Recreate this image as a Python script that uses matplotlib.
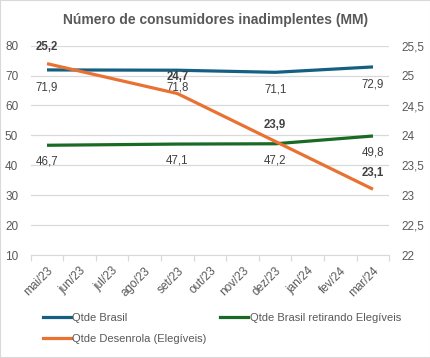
import matplotlib.pyplot as plt
from matplotlib.lines import Line2D
from matplotlib.patches import Rectangle

# categorias (meses) e séries
meses = ['mai/23', 'jun/23', 'jul/23', 'ago/23', 'set/23', 'out/23',
         'nov/23', 'dez/23', 'jan/24', 'fev/24', 'mar/24']
meses_pontos = ['mai/23', 'set/23', 'dez/23', 'mar/24']
qtde_brasil = [71.9, 71.8, 71.1, 72.9]
qtde_sem_elegiveis = [46.7, 47.1, 47.2, 49.8]
qtde_desenrola = [25.2, 24.7, 23.9, 23.1]

cor_azul, cor_verde, cor_laranja = '#156082', '#196B24', '#E97132'
cinza_txt, cinza_grid = '#595959', '#D9D9D9'

plt.rcParams['font.family'] = ['Liberation Sans', 'DejaVu Sans']

fig = plt.figure(figsize=(4.31, 3.58), dpi=100)
ax = fig.add_axes([30.7 / 431, 1 - 255 / 358, (389.3 - 30.7) / 431, (255 - 45.7) / 358])
ax2 = ax.twinx()

xp = [meses.index(m) for m in meses_pontos]

ax.plot(xp, qtde_brasil, color=cor_azul, lw=2.3, solid_capstyle='butt')
ax.plot(xp, qtde_sem_elegiveis, color=cor_verde, lw=2.3, solid_capstyle='butt')
ax2.plot(xp, qtde_desenrola, color=cor_laranja, lw=2.3, solid_capstyle='butt')

def fmt(v):
    return f'{v:.1f}'.replace('.', ',')

for x, v in zip(xp, qtde_brasil):
    ax.annotate(fmt(v), (x, v), xytext=(0, -12.5), textcoords='offset points',
                ha='center', va='center', fontsize=8.3, color='#404040')
for x, v in zip(xp, qtde_sem_elegiveis):
    ax.annotate(fmt(v), (x, v), xytext=(0, -12), textcoords='offset points',
                ha='center', va='center', fontsize=8.3, color='#404040')
for x, v in zip(xp, qtde_desenrola):
    ax2.annotate(fmt(v), (x, v), xytext=(0, 12), textcoords='offset points',
                 ha='center', va='center', fontsize=8.3, color='#404040',
                 fontweight='bold')

ax.set_xlim(-0.5, len(meses) - 0.5)
ax.set_ylim(10, 80)
ax2.set_ylim(22, 25.5)
ax.set_yticks(range(10, 81, 10))
ax2.set_yticks([22 + 0.5 * i for i in range(8)])
ax2.set_yticklabels([f'{22 + 0.5 * i:g}'.replace('.', ',') for i in range(8)])

ax.grid(axis='y', color=cinza_grid, lw=0.9)
ax.set_axisbelow(True)
for a in (ax, ax2):
    for s in a.spines.values():
        s.set_visible(False)
ax.spines['bottom'].set_visible(True)
ax.spines['bottom'].set_color(cinza_grid)

ax.tick_params(axis='y', length=0, labelsize=8.5, labelcolor=cinza_txt, pad=9)
ax2.tick_params(axis='y', length=0, labelsize=8.5, labelcolor=cinza_txt, pad=9)

# marcas entre categorias, rótulos no centro
ax.set_xticks([i - 0.5 for i in range(len(meses) + 1)], minor=True)
ax.set_xticks(range(len(meses)))
ax.set_xticklabels(meses, rotation=45, ha='right', rotation_mode='anchor')
ax.tick_params(axis='x', which='major', length=0, labelsize=8.5,
               labelcolor=cinza_txt, pad=7)
ax.tick_params(axis='x', which='minor', length=4, color=cinza_grid, width=0.9)

fig.text(0.5, 1 - 20 / 358, 'Número de consumidores inadimplentes (MM)',
         ha='center', va='center', fontsize=10, fontweight='bold',
         color=cinza_txt)

handles = [Line2D([], [], color=cor_azul, lw=2.3),
           Line2D([], [], color=cor_laranja, lw=2.3),
           Line2D([], [], color=cor_verde, lw=2.3)]
labels = ['Qtde Brasil', 'Qtde Desenrola (Elegíveis)',
          'Qtde Brasil retirando Elegíveis']
fig.legend(handles, labels, ncol=2, loc='upper left',
           bbox_to_anchor=(33 / 431, 1 - 303 / 358), frameon=False,
           fontsize=8, labelcolor=cinza_txt, handlelength=2.5,
           handletextpad=0.15, columnspacing=1.2, labelspacing=1.0)

fig.patches.append(Rectangle((0, 0), 1, 1, transform=fig.transFigure,
                             fill=False, edgecolor=cinza_grid, lw=1.5))

plt.savefig('out.png', dpi=100)
